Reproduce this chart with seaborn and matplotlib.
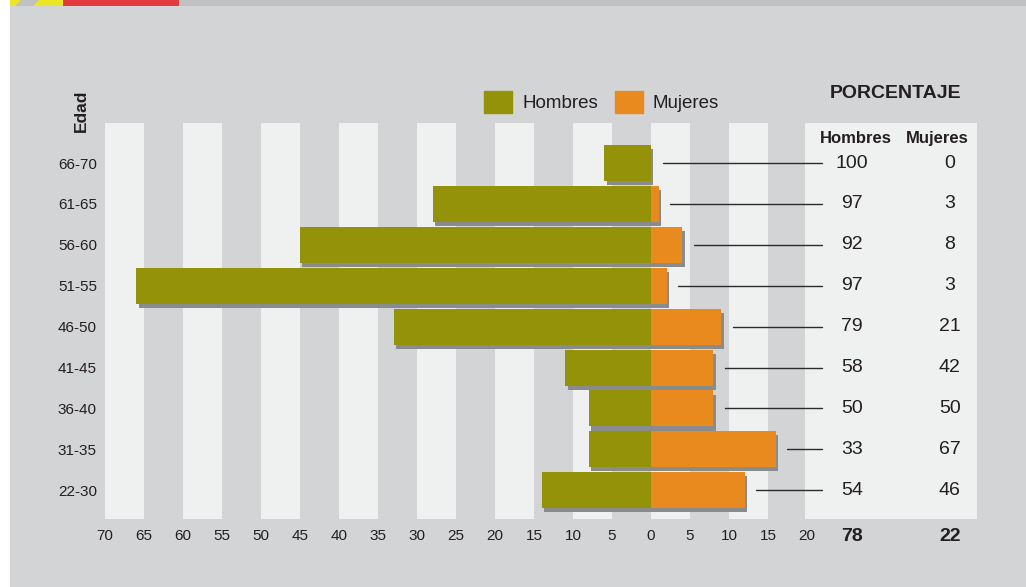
import pandas as pd
import matplotlib
matplotlib.use("Agg")
import matplotlib.pyplot as plt
import matplotlib.patheffects as pe
from matplotlib.patches import Patch, Rectangle, Polygon
import seaborn as sns

# datos
edades = ["66-70", "61-65", "56-60", "51-55", "46-50", "41-45", "36-40", "31-35", "22-30"]
hombres = [6, 28, 45, 66, 33, 11, 8, 8, 14]
mujeres = [0, 1, 4, 2, 9, 8, 8, 16, 12]
pct_hombres = [100, 97, 92, 97, 79, 58, 50, 33, 54]
pct_mujeres = [0, 3, 8, 3, 21, 42, 50, 67, 46]
total_hombres = 78
total_mujeres = 22
xticks = list(range(-70, 25, 5))

BG = "#d3d4d6"
STRIPE = "#eff0f0"
OLIVE = "#939208"
ORANGE = "#e88a1e"
SHADOW = "#8a8b8d"
TXT = "#231f20"

df = pd.DataFrame({
    "Edad": edades * 2,
    "Sexo": ["Hombres"] * len(edades) + ["Mujeres"] * len(edades),
    "Valor": [-h for h in hombres] + mujeres,
})

sns.set_style("white")
plt.rcParams["font.family"] = ["Liberation Sans", "DejaVu Sans"]

W, H = 1026, 587
fig = plt.figure(figsize=(W / 100, H / 100), dpi=100)
fig.patch.set_facecolor(BG)

def box(x0, y0, x1, y1):
    return [x0 / W, 1 - y1 / H, (x1 - x0) / W, (y1 - y0) / H]

ax = fig.add_axes(box(105, 123, 977, 519))
ax.set_facecolor(BG)

# franjas verticales blancas y panel de la tabla
for s in list(range(-70, 0, 10)) + [0, 10]:
    ax.axvspan(s, s + 5, color=STRIPE, lw=0, zorder=0)
ax.axvspan(19.74, 41.8, color=STRIPE, lw=0, zorder=0)

sns.barplot(data=df, x="Valor", y="Edad", hue="Sexo", orient="h", dodge=False,
            palette={"Hombres": OLIVE, "Mujeres": ORANGE}, saturation=1,
            width=0.88, errorbar=None, legend=False, linewidth=0, ax=ax)

# sombra de las barras
for cont in ax.containers:
    for p in cont:
        p.set_zorder(2)
        p.set_path_effects([pe.SimplePatchShadow(offset=(1.8, -3), shadow_rgbFace=SHADOW, alpha=1),
                            pe.Normal()])

ax.set_xlim(-70, 41.8)
ax.set_ylim(8.704, -0.978)
for s in ax.spines.values():
    s.set_visible(False)
ax.set_xlabel("")
ax.set_ylabel("")
ax.set_xticks(xticks)
ax.set_xticklabels([str(abs(t)) for t in xticks])
ax.tick_params(axis="x", length=0, pad=7, labelsize=11, labelcolor=TXT)
ax.tick_params(axis="y", length=0, pad=5.8, labelsize=11, labelcolor=TXT)

# lineas guia y tabla de porcentajes
for i in range(len(edades)):
    start = max(mujeres[i], 0) + 1.5
    ax.plot([start, 21.9], [i, i], color="#2b2b2b", lw=1, zorder=3)
    ax.text(25.77, i, str(pct_hombres[i]), ha="center", va="center", fontsize=14, color=TXT)
    ax.text(38.33, i, str(pct_mujeres[i]), ha="center", va="center", fontsize=14, color=TXT)

ax.text(26.28, -0.611, "Hombres", ha="center", va="center", fontsize=12, fontweight="bold", color=TXT)
ax.text(36.67, -0.611, "Mujeres", ha="center", va="center", fontsize=12, fontweight="bold", color=TXT)
ax.text(31.4, -1.711, "PORCENTAJE", ha="center", va="center", fontsize=14, fontweight="bold",
        color=TXT, clip_on=False)
ax.text(25.77, 9.12, str(total_hombres), ha="center", va="center", fontsize=14, fontweight="bold",
        color=TXT, clip_on=False)
ax.text(38.33, 9.12, str(total_mujeres), ha="center", va="center", fontsize=14, fontweight="bold",
        color=TXT, clip_on=False)

fig.text(81 / W, 1 - 111 / H, "Edad", rotation=90, ha="center", va="center",
         fontsize=12.5, fontweight="bold", color=TXT)

fig.legend(handles=[Patch(color=OLIVE, label="Hombres"), Patch(color=ORANGE, label="Mujeres")],
           loc="center left", bbox_to_anchor=(484 / W, 1 - 102 / H), ncol=2, frameon=False,
           fontsize=13.5, handlelength=1.5, handleheight=1.5, handletextpad=0.53,
           columnspacing=0.9, borderpad=0, borderaxespad=0, labelcolor=TXT)

# cabecera decorativa
def fpoly(pts, color):
    fig.add_artist(Polygon([(x / W, 1 - y / H) for x, y in pts], closed=True,
                           transform=fig.transFigure, color=color, lw=0))

fig.add_artist(Rectangle((0, 0), 10 / W, 1, transform=fig.transFigure, color="white", lw=0))
fpoly([(10, 0), (W, 0), (W, 6), (10, 6)], "#c0c1c3")
fpoly([(10, 0), (21, 0), (15, 6), (10, 6)], "#ece624")
fpoly([(39, 0), (63, 0), (63, 6), (33, 6)], "#ece624")
fpoly([(63, 0), (179, 0), (179, 6), (63, 6)], "#e4393f")

fig.savefig("out.png", dpi=100, facecolor=fig.get_facecolor())
